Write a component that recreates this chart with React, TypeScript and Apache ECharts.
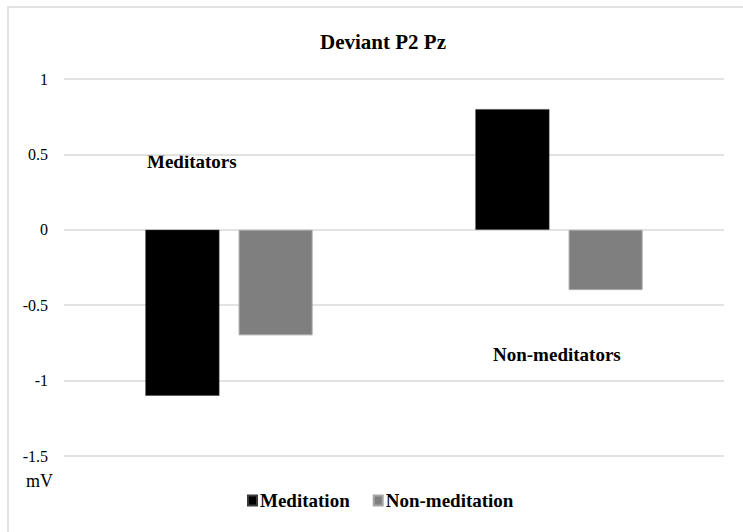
import React, { useEffect, useRef } from "react";
import * as echarts from "echarts";

const groups = ["Meditators", "Non-meditators"];
const meditation = [-1.1, 0.8];
const nonMeditation = [-0.7, -0.4];
const seriesNames = ["Meditation", "Non-meditation"];
const titleText = "Deviant P2 Pz";
const unitText = "mV";

const SERIF = "Liberation Serif, Times New Roman, serif";

export default function App() {
  const ref = useRef<HTMLDivElement>(null);
  useEffect(() => {
    if (!ref.current) return;
    const chart = echarts.init(ref.current, null, { renderer: "svg" });
    chart.setOption({
      animation: false,
      backgroundColor: "#ffffff",
      textStyle: { fontFamily: SERIF },
      title: {
        text: titleText,
        left: 315,
        top: 26,
        textStyle: { fontFamily: SERIF, fontWeight: "bold", fontSize: 21, color: "#000" },
      },
      legend: {
        data: seriesNames,
        left: 242,
        top: 486,
        itemWidth: 9,
        itemHeight: 10,
        itemGap: 23,
        icon: "rect",
        textStyle: { fontFamily: SERIF, fontWeight: "bold", fontSize: 19, color: "#000", padding: [0, 0, 0, -2] },
      },
      grid: { left: 64, right: 19, top: 79, bottom: 76, containLabel: false },
      xAxis: {
        type: "category",
        data: groups,
        axisLine: { show: false },
        axisTick: { show: false },
        axisLabel: { show: false },
      },
      yAxis: {
        type: "value",
        min: -1.5,
        max: 1,
        interval: 0.5,
        axisLine: { show: false },
        axisTick: { show: false },
        axisLabel: { fontFamily: SERIF, fontSize: 16, color: "#000", margin: 16 },
        splitLine: { lineStyle: { color: "#d9d9d9", width: 1.5 } },
      },
      graphic: [
        {
          type: "rect",
          shape: { x: 8, y: 7, width: 760, height: 560 },
          style: { fill: "none", stroke: "#d9d9d9", lineWidth: 1.5 },
          silent: true,
          z: -1,
        },
        {
          type: "text",
          x: 147,
          y: 161,
          style: { text: groups[0], fontFamily: SERIF, fontWeight: "bold", fontSize: 19, fill: "#000", verticalAlign: "middle" },
        },
        {
          type: "text",
          x: 493,
          y: 354,
          style: { text: groups[1], fontFamily: SERIF, fontWeight: "bold", fontSize: 19, fill: "#000", verticalAlign: "middle" },
        },
        {
          type: "text",
          x: 26,
          y: 481,
          style: { text: unitText, fontFamily: SERIF, fontSize: 18, fill: "#000", verticalAlign: "middle" },
        },
      ],
      series: [
        {
          name: seriesNames[0],
          type: "bar",
          data: meditation,
          barWidth: 74,
          barGap: "26%",
          itemStyle: { color: "#000000", borderColor: "#3a3a3a", borderWidth: 0.5 },
        },
        {
          name: seriesNames[1],
          type: "bar",
          data: nonMeditation,
          barWidth: 74,
          barGap: "26%",
          itemStyle: { color: "#7f7f7f", borderColor: "#a6a6a6", borderWidth: 1 },
        },
      ],
    });
    return () => chart.dispose();
  }, []);
  return <div ref={ref} style={{ position: "absolute", left: 0, top: 0, width: 743, height: 532 }} />;
}
